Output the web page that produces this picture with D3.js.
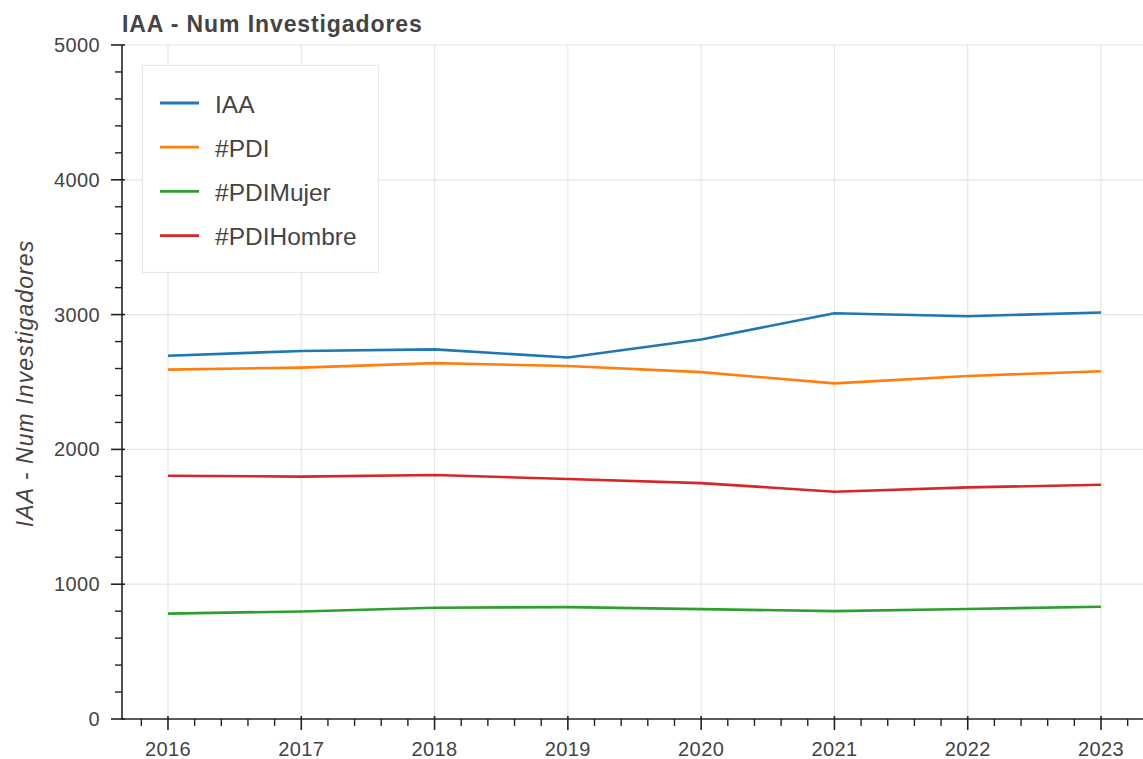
<!DOCTYPE html>
<html>
<head>
<meta charset="utf-8">
<script src="https://cdn.jsdelivr.net/npm/d3@7"></script>
<style>
  html, body { margin: 0; padding: 0; background: #fff; }
  svg { display: block; font-family: "Liberation Sans", Arial, Helvetica, sans-serif; }
</style>
</head>
<body>
<svg id="chart" width="1143" height="759"></svg>
<script>
const years = [2016, 2017, 2018, 2019, 2020, 2021, 2022, 2023];
const seriesNames = ["IAA", "#PDI", "#PDIMujer", "#PDIHombre"];
const seriesColors = ["#1f77b4", "#ff7f0e", "#2ca02c", "#d62728"];
const iaa = [2695, 2730, 2742, 2682, 2815, 3010, 2988, 3016];
const pdi = [2592, 2607, 2640, 2619, 2573, 2490, 2545, 2580];
const pdiMujer = [782, 798, 825, 830, 815, 800, 816, 833];
const pdiHombre = [1805, 1798, 1810, 1780, 1750, 1686, 1718, 1738];
const yTicks = [0, 1000, 2000, 3000, 4000, 5000];
const titleText = "IAA - Num Investigadores";
const yLabel = "IAA - Num Investigadores";

const seriesValues = [iaa, pdi, pdiMujer, pdiHombre];

const svg = d3.select("#chart");
const mLeft = 122, mRight = 1143, mTop = 45, mBottom = 719;

const x = d3.scaleLinear().domain([2015.655, 2023.315]).range([mLeft, mRight]);
const y = d3.scaleLinear().domain([0, 5000]).range([mBottom, mTop]);

const textColor = "#444";
const gridColor = "#e6e6e6";

// Gridlines
svg.append("g").selectAll("line").data(years).join("line")
  .attr("x1", d => x(d)).attr("x2", d => x(d))
  .attr("y1", mTop).attr("y2", mBottom)
  .attr("stroke", gridColor).attr("stroke-width", 1.2);
svg.append("g").selectAll("line").data(yTicks.filter(d => d > 0)).join("line")
  .attr("x1", mLeft).attr("x2", mRight)
  .attr("y1", d => y(d)).attr("y2", d => y(d))
  .attr("stroke", gridColor).attr("stroke-width", 1.2);

// Lines
const line = d3.line().x((d, i) => x(years[i])).y(d => y(d));
seriesValues.forEach((vals, i) => {
  svg.append("path").datum(vals)
    .attr("d", line)
    .attr("fill", "none")
    .attr("stroke", seriesColors[i])
    .attr("stroke-width", 2.6)
    .attr("stroke-linejoin", "round");
});

// Axes
const xMinor = d3.range(2015.8, 2023.31, 0.2).map(v => Math.round(v * 10) / 10).filter(v => !years.includes(v));
const yMinor = d3.range(0, 5001, 200).filter(v => !yTicks.includes(v));

const axisColor = "#222";
// x axis
const gx = svg.append("g");
gx.append("line").attr("x1", mLeft - 1).attr("x2", mRight).attr("y1", mBottom).attr("y2", mBottom)
  .attr("stroke", axisColor).attr("stroke-width", 1.6);
gx.append("g").selectAll("line").data(years).join("line")
  .attr("x1", d => x(d)).attr("x2", d => x(d))
  .attr("y1", mBottom - 3).attr("y2", mBottom + 11)
  .attr("stroke", axisColor).attr("stroke-width", 1.6);
gx.append("g").selectAll("line").data(xMinor).join("line")
  .attr("x1", d => x(d)).attr("x2", d => x(d))
  .attr("y1", mBottom).attr("y2", mBottom + 7)
  .attr("stroke", axisColor).attr("stroke-width", 1.4);
gx.append("g").selectAll("text").data(years).join("text")
  .attr("x", d => x(d)).attr("y", mBottom + 37)
  .attr("text-anchor", "middle")
  .attr("font-size", 20).attr("letter-spacing", 0.4).attr("fill", textColor)
  .text(d => d);

// y axis
const gy = svg.append("g");
gy.append("line").attr("x1", mLeft).attr("x2", mLeft).attr("y1", mTop).attr("y2", mBottom + 1)
  .attr("stroke", axisColor).attr("stroke-width", 1.6);
gy.append("g").selectAll("line").data(yTicks).join("line")
  .attr("x1", mLeft - 11).attr("x2", mLeft + 3)
  .attr("y1", d => y(d)).attr("y2", d => y(d))
  .attr("stroke", axisColor).attr("stroke-width", 1.6);
gy.append("g").selectAll("line").data(yMinor).join("line")
  .attr("x1", mLeft - 7).attr("x2", mLeft)
  .attr("y1", d => y(d)).attr("y2", d => y(d))
  .attr("stroke", axisColor).attr("stroke-width", 1.4);
gy.append("g").selectAll("text").data(yTicks).join("text")
  .attr("x", mLeft - 22).attr("y", d => y(d) + 7)
  .attr("text-anchor", "end")
  .attr("font-size", 20).attr("letter-spacing", 0.4).attr("fill", textColor)
  .text(d => d);

// y label
svg.append("text")
  .attr("transform", `translate(33, 383.5) rotate(-90)`)
  .attr("text-anchor", "middle")
  .attr("font-size", 23).attr("letter-spacing", 1.1).attr("font-style", "italic").attr("fill", textColor)
  .text(yLabel);

// title
svg.append("text")
  .attr("x", mLeft).attr("y", 31.5)
  .attr("font-size", 23).attr("letter-spacing", 0.9).attr("font-weight", "bold").attr("fill", textColor)
  .text(titleText);

// legend
const lg = svg.append("g");
lg.append("rect").attr("x", 142.5).attr("y", 65.5).attr("width", 236).attr("height", 207)
  .attr("fill", "#fff").attr("stroke", "#e8e8e8").attr("stroke-width", 1.2);
seriesNames.forEach((name, i) => {
  const yy = 103 + i * 44.2;
  lg.append("line").attr("x1", 160).attr("x2", 199).attr("y1", yy).attr("y2", yy)
    .attr("stroke", seriesColors[i]).attr("stroke-width", 2.8);
  lg.append("text").attr("x", 215).attr("y", yy + 9.5)
    .attr("font-size", 24.5).attr("fill", textColor)
    .text(name);
});
</script>
</body>
</html>
